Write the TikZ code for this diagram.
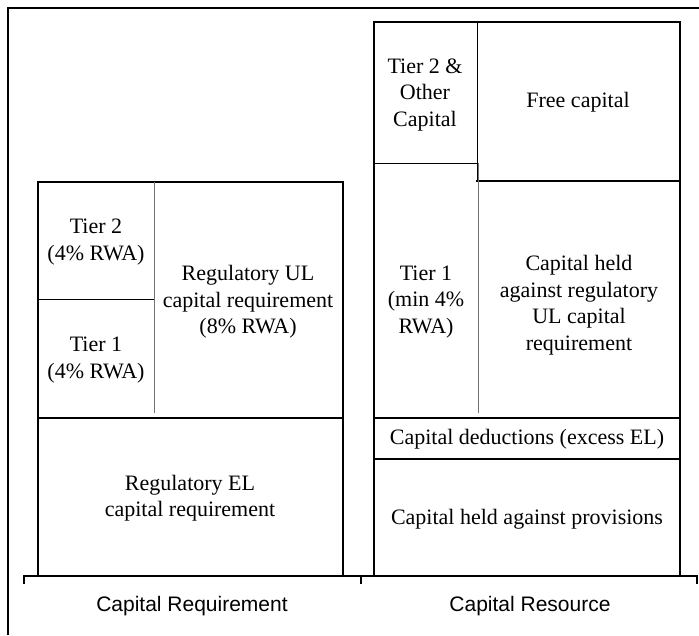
\documentclass[tikz,border=0pt]{standalone}
\usepackage{fontspec}
\setmainfont{Liberation Serif}
\newfontfamily\axisfont{Liberation Sans}
\usepackage{tikz}
\usetikzlibrary{positioning}

\begin{document}
\begin{tikzpicture}[
    x=1pt, y=-1pt,
    % Styles
    outline/.style={
        draw=black,
        line width=2pt
    },
    divider/.style={
        draw=black,
        line width=1pt
    },
    softdivider/.style={
        draw=black!55,
        line width=1pt
    },
    cell/.style={
        align=center,
        inner sep=0pt,
        font=\fontsize{22}{26.5}\selectfont
    },
    axislabel/.style={
        inner sep=0pt,
        font=\axisfont\fontsize{21}{25}\selectfont
    }
]
\useasboundingbox (0,0) rectangle (699,635);

% Frame
\draw[outline, line width=2.5pt] (8,635) -- (8,8) -- (699,8);

% Capital requirement column
\draw[outline] (38,182) rectangle (343,576);
\draw[outline] (38,418) -- (343,418);
\draw[softdivider] (154,182) -- (154,413);
\draw[divider] (38,299) -- (154,299);

\node[cell] (tierTwoReq) at (96,242) {Tier 2\\(4\% RWA)};
\node[cell] (tierOneReq) at (96,360) {Tier 1\\(4\% RWA)};
\node[cell] (ulReq) at (248,302) {Regulatory UL\\capital requirement\\(8\% RWA)};
\node[cell] (elReq) at (190,498) {Regulatory EL\\capital requirement};

% Capital resource column
\draw[outline] (374,22) rectangle (680,576);
\draw[divider] (477,22) -- (477,181);
\draw[outline] (476,181) -- (680,181);
\draw[divider] (374,163) -- (477,163);
\draw[softdivider] (478,163) -- (478,413);
\draw[outline] (374,418) -- (680,418);
\draw[outline] (374,459) -- (680,459);

\node[cell] (tierTwoRes) at (425,95) {Tier 2 \&\\Other\\Capital};
\node[cell] (freeRes) at (578,102) {Free capital};
\node[cell] (tierOneRes) at (426,302) {Tier 1\\(min 4\%\\RWA)};
\node[cell] (ulRes) at (579,305) {Capital held\\against regulatory\\UL capital\\requirement};
\node[cell] (dedRes) at (527,439) {Capital deductions (excess EL)};
\node[cell] (provRes) at (527,519) {Capital held against provisions};

% Axis
\draw[outline] (24,584) -- (24,576) -- (697,576) -- (697,584);
\draw[outline] (361,576) -- (361,584);

\node[axislabel] (reqLabel) at (192,606) {Capital Requirement};
\node[axislabel] (resLabel) at (530,606) {Capital Resource};

\end{tikzpicture}
\end{document}
